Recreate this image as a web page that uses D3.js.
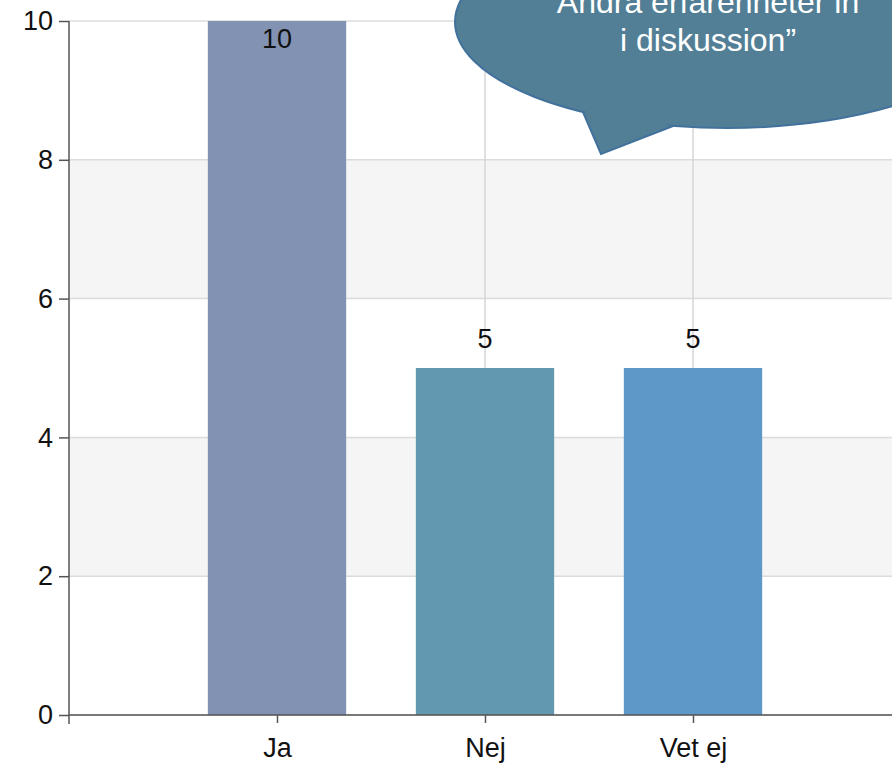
<!DOCTYPE html>
<html>
<head>
<meta charset="utf-8">
<script src="https://cdn.jsdelivr.net/npm/d3@7"></script>
<style>
  body { margin: 0; background: #fff; }
  svg { display: block; font-family: "Liberation Sans", Arial, sans-serif; }
</style>
</head>
<body>
<svg id="chart" width="892" height="764"></svg>
<script>
// chart data
const categories = ["Ja", "Nej", "Vet ej"];
const answers = [10, 5, 5];
const yTicks = [0, 2, 4, 6, 8, 10];
const bubbleLines = ["Andra erfarenheter in", "i diskussion\u201d"];

const barColors = ["#8192b2", "#6299b0", "#5e98c8"];

const svg = d3.select("#chart");
const plotL = 69, plotR = 901, plotT = 21, plotB = 715;

const x = d3.scalePoint().domain(categories).range([plotL, plotR]).padding(1);
const y = d3.scaleLinear().domain([0, 10]).range([plotB, plotT]);
const barW = x.step() * 0.665;

// alternating bands
const bands = [];
for (let i = 0; i < yTicks.length - 1; i++) {
    if (i % 2 === 1) bands.push([yTicks[i], yTicks[i + 1]]);
}
svg.selectAll(".band")
    .data(bands)
    .enter()
    .append("rect")
    .attr("x", plotL)
    .attr("y", d => y(d[1]))
    .attr("width", plotR - plotL)
    .attr("height", d => y(d[0]) - y(d[1]))
    .attr("fill", "#f5f5f5");

// grid lines
svg.selectAll(".hgrid")
    .data(yTicks)
    .enter()
    .append("line")
    .attr("x1", plotL).attr("x2", plotR)
    .attr("y1", d => y(d)).attr("y2", d => y(d))
    .attr("stroke", "#dcdcdc")
    .attr("stroke-width", 1.5);

svg.selectAll(".vgrid")
    .data(categories)
    .enter()
    .append("line")
    .attr("x1", d => x(d)).attr("x2", d => x(d))
    .attr("y1", plotT).attr("y2", plotB)
    .attr("stroke", "#d6d6d6")
    .attr("stroke-width", 1.5);

// bars
svg.selectAll(".bar")
    .data(categories)
    .enter()
    .append("rect")
    .attr("x", d => x(d) - barW / 2)
    .attr("y", (d, i) => y(answers[i]))
    .attr("width", barW)
    .attr("height", (d, i) => y(0) - y(answers[i]))
    .attr("fill", (d, i) => barColors[i]);

// value labels (inside the bar when there is no room above)
svg.selectAll(".val")
    .data(categories)
    .enter()
    .append("text")
    .attr("x", d => x(d))
    .attr("y", (d, i) => {
        const yy = y(answers[i]);
        return yy - 20 < plotT + 10 ? yy + 27 : yy - 20;
    })
    .attr("text-anchor", "middle")
    .attr("font-size", 27)
    .attr("fill", "#111")
    .text((d, i) => answers[i]);

// axes
const yAxis = svg.append("g")
    .attr("transform", `translate(${plotL},0)`)
    .call(d3.axisLeft(y).tickValues(yTicks).tickSize(10).tickPadding(6));
const xAxis = svg.append("g")
    .attr("transform", `translate(0,${plotB})`)
    .call(d3.axisBottom(x).tickSize(8).tickPadding(15));

[yAxis, xAxis].forEach(a => {
    a.select(".domain").attr("stroke", "#555").attr("stroke-width", 1.5);
    a.selectAll(".tick line").attr("stroke", "#555").attr("stroke-width", 1.5);
    a.selectAll(".tick text")
        .attr("font-size", 27)
        .attr("font-family", "Liberation Sans, Arial, sans-serif")
        .attr("fill", "#111");
});
yAxis.select(".domain").attr("d", `M0,${plotT}V${plotB + 9}`);
xAxis.select(".domain").attr("d", `M${plotL},0H${plotR}`);

// speech bubble
const bubble = svg.append("g");
const cx = 727, cy = 22, rx = 272, ry = 106;
const tail = [[583, 112], [601, 154], [673, 126]];
bubble.append("ellipse")
    .attr("cx", cx).attr("cy", cy)
    .attr("rx", rx).attr("ry", ry)
    .attr("fill", "#527f96")
    .attr("stroke", "#41719c")
    .attr("stroke-width", 2);
bubble.append("path")
    .attr("d", d3.line()(tail))
    .attr("fill", "#527f96")
    .attr("stroke", "#41719c")
    .attr("stroke-width", 2);
// cover the seam between tail and ellipse
bubble.append("path")
    .attr("d", d3.line()([[585, 108], [603, 150], [675, 121], [680, 110]]) + "Z")
    .attr("fill", "#527f96");

bubble.selectAll("text")
    .data(bubbleLines)
    .enter()
    .append("text")
    .attr("x", 708)
    .attr("y", (d, i) => 13 + i * 38)
    .attr("text-anchor", "middle")
    .attr("font-size", 32)
    .attr("fill", "#fff")
    .text(d => d);
</script>
</body>
</html>
